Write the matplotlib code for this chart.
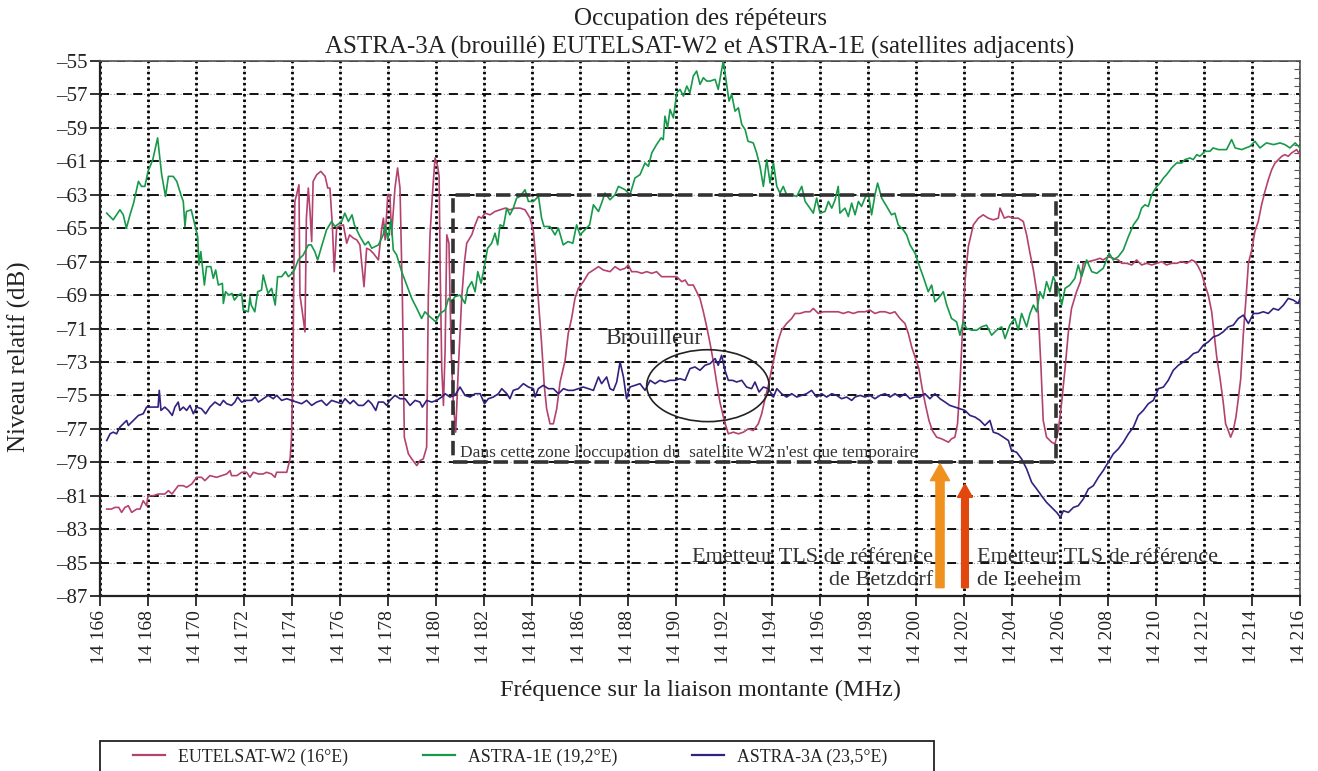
import numpy as np
import matplotlib
matplotlib.use("Agg")
import matplotlib.pyplot as plt
from matplotlib.patches import Rectangle, Ellipse
from matplotlib.ticker import MultipleLocator, FixedLocator
from matplotlib.lines import Line2D

plt.rcParams['font.family'] = ['Liberation Serif', 'DejaVu Serif']

# ---------------- data ----------------
series_names = ["EUTELSAT-W2 (16°E)", "ASTRA-1E (19,2°E)", "ASTRA-3A (23,5°E)"]
series_colors = ["#B4426F", "#17994A", "#34207F"]

eutelsat_f = [14166.28, 14166.48, 14166.62, 14166.78, 14166.90, 14167.04, 14167.18, 14167.32, 14167.53, 14167.67,
    14167.80, 14167.94, 14168.00, 14168.22, 14168.43, 14168.70, 14168.85, 14169.00, 14169.26, 14169.47,
    14169.61, 14169.82, 14170.03, 14170.23, 14170.37, 14170.58, 14170.86, 14171.07, 14171.28, 14171.42,
    14171.48, 14171.70, 14171.90, 14172.11, 14172.25, 14172.39, 14172.60, 14172.80, 14172.94, 14173.15,
    14173.29, 14173.36, 14173.57, 14173.78, 14173.85, 14173.92, 14173.98, 14174.04, 14174.08, 14174.12,
    14174.19, 14174.29, 14174.33, 14174.43, 14174.54, 14174.60, 14174.68, 14174.75, 14174.82, 14174.88,
    14175.03, 14175.20, 14175.38, 14175.49, 14175.58, 14175.68, 14175.76, 14175.86, 14175.93, 14176.14,
    14176.28, 14176.40, 14176.56, 14176.70, 14176.83, 14177.00, 14177.11, 14177.25, 14177.39, 14177.60,
    14177.74, 14177.81, 14177.88, 14177.99, 14178.08, 14178.15, 14178.29, 14178.40, 14178.50, 14178.60,
    14178.68, 14178.85, 14178.99, 14179.20, 14179.33, 14179.47, 14179.61, 14179.68, 14179.75, 14179.85,
    14179.96, 14180.07, 14180.13, 14180.17, 14180.24, 14180.31, 14180.38, 14180.45, 14180.54, 14180.63,
    14180.72, 14180.82, 14180.93, 14181.07, 14181.18, 14181.28, 14181.49, 14181.63, 14181.77, 14181.90,
    14182.04, 14182.25, 14182.46, 14182.67, 14182.88, 14183.08, 14183.29, 14183.50, 14183.71, 14183.92,
    14184.06, 14184.15, 14184.26, 14184.40, 14184.51, 14184.61, 14184.75, 14184.89, 14185.03, 14185.17,
    14185.38, 14185.51, 14185.65, 14185.79, 14185.93, 14186.14, 14186.35, 14186.56, 14186.77, 14186.97,
    14187.25, 14187.46, 14187.67, 14187.88, 14188.01, 14188.15, 14188.36, 14188.57, 14188.78, 14188.99,
    14189.19, 14189.40, 14189.61, 14189.82, 14190.03, 14190.24, 14190.38, 14190.51, 14190.72, 14190.86,
    14191.00, 14191.14, 14191.28, 14191.42, 14191.56, 14191.69, 14191.83, 14192.01, 14192.18, 14192.39,
    14192.60, 14192.81, 14193.01, 14193.22, 14193.43, 14193.57, 14193.71, 14193.85, 14193.99, 14194.13,
    14194.26, 14194.40, 14194.61, 14194.82, 14194.96, 14195.17, 14195.38, 14195.58, 14195.72, 14195.93,
    14196.14, 14196.35, 14196.56, 14196.76, 14196.97, 14197.18, 14197.39, 14197.60, 14197.87, 14198.08,
    14198.29, 14198.50, 14198.71, 14198.92, 14199.12, 14199.33, 14199.54, 14199.68, 14199.82, 14199.96,
    14200.12, 14200.26, 14200.40, 14200.54, 14200.68, 14200.86, 14201.07, 14201.21, 14201.35, 14201.48,
    14201.62, 14201.73, 14201.83, 14201.93, 14202.04, 14202.18, 14202.39, 14202.60, 14202.80, 14203.01,
    14203.22, 14203.43, 14203.50, 14203.68, 14203.85, 14204.05, 14204.26, 14204.47, 14204.61, 14204.75,
    14204.89, 14205.03, 14205.10, 14205.21, 14205.30, 14205.44, 14205.65, 14205.79, 14205.93, 14206.07,
    14206.21, 14206.35, 14206.48, 14206.69, 14206.85, 14206.97, 14207.18, 14207.46, 14207.67, 14207.80,
    14208.01, 14208.22, 14208.43, 14208.57, 14208.78, 14208.99, 14209.19, 14209.40, 14209.61, 14209.82,
    14210.03, 14210.24, 14210.44, 14210.65, 14210.86, 14211.07, 14211.28, 14211.49, 14211.63, 14211.76,
    14211.90, 14212.04, 14212.18, 14212.32, 14212.42, 14212.53, 14212.67, 14212.80, 14212.90, 14213.01,
    14213.11, 14213.22, 14213.33, 14213.43, 14213.53, 14213.64, 14213.75, 14213.85, 14213.99, 14214.12,
    14214.26, 14214.40, 14214.54, 14214.68, 14214.82, 14214.96, 14215.10, 14215.24, 14215.37, 14215.51,
    14215.65, 14215.86, 14216.00]
eutelsat_db = [-81.8, -81.8, -81.7, -81.7, -82.0, -81.7, -81.6, -82.0, -81.8, -81.8,
    -81.3, -81.6, -81.0, -81.0, -80.9, -80.9, -80.7, -80.9, -80.4, -80.4,
    -80.5, -80.3, -79.9, -79.9, -80.1, -79.8, -79.9, -79.8, -79.7, -79.5,
    -79.8, -79.8, -79.6, -79.6, -79.9, -79.6, -79.7, -79.7, -79.6, -79.7,
    -79.9, -79.6, -79.6, -79.6, -79.2, -78.8, -77.5, -73.4, -67.1, -63.4,
    -63.0, -62.4, -69.0, -70.0, -71.2, -64.4, -62.6, -64.0, -65.8, -62.2,
    -61.8, -61.6, -61.9, -62.6, -62.6, -64.8, -67.6, -65.0, -64.9, -64.8,
    -65.9, -65.4, -65.6, -65.7, -66.0, -68.5, -66.2, -66.3, -66.5, -66.9,
    -65.0, -64.4, -65.7, -63.0, -63.0, -65.4, -62.6, -61.4, -62.6, -69.2,
    -77.5, -78.5, -78.8, -79.2, -78.9, -78.8, -78.1, -69.2, -65.4, -63.0,
    -60.8, -61.3, -61.9, -67.1, -73.4, -75.6, -72.3, -65.4, -65.9, -72.3,
    -75.4, -77.2, -73.4, -69.2, -67.1, -65.9, -65.4, -64.8, -64.3, -64.4,
    -64.1, -64.2, -64.0, -63.9, -63.8, -63.9, -63.8, -63.8, -63.9, -64.4,
    -65.2, -66.7, -69.2, -71.9, -74.4, -75.8, -76.7, -76.7, -75.8, -74.2,
    -72.9, -71.3, -70.4, -69.2, -68.6, -68.2, -67.7, -67.5, -67.3, -67.5,
    -67.6, -67.3, -67.5, -67.4, -67.2, -67.6, -67.6, -67.7, -67.6, -67.7,
    -67.6, -67.9, -67.9, -67.9, -67.9, -68.2, -68.1, -68.4, -68.4, -68.8,
    -69.2, -70.0, -70.9, -71.9, -73.0, -74.2, -75.4, -76.5, -77.3, -77.2,
    -77.3, -77.2, -77.0, -77.1, -76.7, -76.1, -75.2, -74.4, -73.4, -72.5,
    -71.7, -71.1, -70.7, -70.4, -70.1, -70.1, -70.0, -70.0, -69.8, -70.1,
    -70.0, -70.0, -70.0, -70.0, -70.1, -70.0, -70.1, -70.0, -70.0, -69.9,
    -70.1, -70.0, -70.0, -70.1, -70.0, -70.4, -70.7, -71.3, -72.1, -72.7,
    -73.4, -74.6, -75.6, -76.5, -77.1, -77.5, -77.6, -77.7, -77.8, -77.6,
    -77.5, -76.7, -74.4, -71.3, -68.2, -66.1, -64.8, -64.4, -64.2, -64.4,
    -64.5, -64.4, -63.8, -64.4, -64.3, -64.4, -64.4, -64.6, -65.4, -66.5,
    -67.5, -68.8, -70.2, -73.4, -76.5, -77.5, -77.8, -77.9, -77.1, -75.4,
    -73.4, -71.2, -69.8, -68.8, -68.2, -67.1, -67.0, -66.9, -66.8, -66.9,
    -66.7, -66.8, -66.9, -67.1, -67.1, -67.2, -66.9, -67.2, -67.1, -67.2,
    -67.1, -67.0, -67.2, -67.1, -67.1, -67.0, -67.1, -66.9, -67.0, -67.3,
    -67.7, -68.4, -69.0, -70.0, -71.3, -72.7, -74.0, -75.4, -76.7, -77.1,
    -77.5, -77.1, -76.3, -75.2, -74.0, -71.3, -69.2, -67.1, -66.3, -65.2,
    -64.6, -63.6, -62.8, -62.1, -61.5, -61.1, -60.9, -60.7, -60.6, -60.7,
    -60.5, -60.3, -60.6]

astra1e_f = [14166.28, 14166.55, 14166.83, 14166.97, 14167.10, 14167.25, 14167.40, 14167.60, 14167.73, 14167.87,
    14168.00, 14168.20, 14168.40, 14168.57, 14168.73, 14168.85, 14169.05, 14169.20, 14169.37, 14169.47,
    14169.54, 14169.60, 14169.80, 14169.95, 14170.07, 14170.12, 14170.20, 14170.35, 14170.44, 14170.62,
    14170.72, 14170.82, 14170.93, 14171.10, 14171.14, 14171.23, 14171.37, 14171.50, 14171.60, 14171.76,
    14171.90, 14171.97, 14172.18, 14172.25, 14172.30, 14172.45, 14172.57, 14172.73, 14172.80, 14173.00,
    14173.15, 14173.30, 14173.40, 14173.57, 14173.73, 14173.85, 14174.00, 14174.10, 14174.26, 14174.47,
    14174.68, 14174.80, 14174.95, 14175.07, 14175.23, 14175.44, 14175.65, 14175.79, 14176.07, 14176.20,
    14176.35, 14176.50, 14176.60, 14176.83, 14177.04, 14177.18, 14177.32, 14177.60, 14177.80, 14177.88,
    14177.99, 14178.13, 14178.22, 14178.36, 14178.57, 14178.78, 14178.99, 14179.20, 14179.40, 14179.54,
    14179.75, 14179.99, 14180.17, 14180.38, 14180.52, 14180.65, 14180.79, 14181.00, 14181.21, 14181.32,
    14181.49, 14181.63, 14181.74, 14181.88, 14182.04, 14182.15, 14182.32, 14182.46, 14182.57, 14182.67,
    14182.81, 14182.95, 14183.08, 14183.22, 14183.36, 14183.50, 14183.71, 14183.85, 14184.06, 14184.27,
    14184.40, 14184.50, 14184.75, 14184.96, 14185.10, 14185.30, 14185.50, 14185.70, 14185.86, 14186.00,
    14186.20, 14186.40, 14186.56, 14186.77, 14186.90, 14187.04, 14187.25, 14187.46, 14187.60, 14187.88,
    14188.08, 14188.29, 14188.50, 14188.71, 14188.85, 14188.99, 14189.19, 14189.38, 14189.47, 14189.54,
    14189.65, 14189.75, 14189.89, 14190.03, 14190.17, 14190.31, 14190.45, 14190.58, 14190.72, 14190.86,
    14191.00, 14191.14, 14191.28, 14191.42, 14191.63, 14191.76, 14191.88, 14191.97, 14192.11, 14192.21,
    14192.32, 14192.46, 14192.60, 14192.74, 14192.88, 14193.00, 14193.22, 14193.36, 14193.50, 14193.64,
    14193.78, 14193.92, 14194.06, 14194.20, 14194.33, 14194.47, 14194.61, 14194.82, 14195.03, 14195.24,
    14195.38, 14195.58, 14195.72, 14195.86, 14196.00, 14196.21, 14196.35, 14196.49, 14196.63, 14196.76,
    14196.83, 14197.04, 14197.18, 14197.32, 14197.46, 14197.60, 14197.73, 14197.87, 14198.01, 14198.15,
    14198.29, 14198.40, 14198.57, 14198.78, 14198.98, 14199.12, 14199.26, 14199.47, 14199.61, 14199.75,
    14199.96, 14200.10, 14200.30, 14200.51, 14200.65, 14200.79, 14200.93, 14201.14, 14201.28, 14201.48,
    14201.69, 14201.83, 14201.97, 14202.11, 14202.32, 14202.53, 14202.73, 14202.94, 14203.15, 14203.36,
    14203.57, 14203.71, 14203.91, 14204.12, 14204.26, 14204.40, 14204.61, 14204.75, 14204.89, 14205.03,
    14205.16, 14205.30, 14205.44, 14205.58, 14205.72, 14205.93, 14206.07, 14206.21, 14206.41, 14206.62,
    14206.76, 14206.90, 14207.11, 14207.32, 14207.53, 14207.80, 14208.05, 14208.22, 14208.43, 14208.64,
    14208.85, 14209.06, 14209.26, 14209.40, 14209.54, 14209.68, 14209.82, 14210.03, 14210.17, 14210.31,
    14210.44, 14210.65, 14210.86, 14211.07, 14211.20, 14211.42, 14211.55, 14211.70, 14211.83, 14212.04,
    14212.25, 14212.38, 14212.60, 14212.94, 14213.15, 14213.30, 14213.57, 14213.92, 14214.12, 14214.33,
    14214.60, 14214.90, 14215.17, 14215.37, 14215.58, 14215.80, 14216.00]
astra1e_db = [-64.1, -64.5, -63.9, -64.2, -65.0, -64.2, -63.5, -62.2, -62.5, -62.5,
    -61.6, -60.9, -59.6, -61.8, -63.1, -61.9, -61.9, -62.2, -63.0, -63.4,
    -64.9, -64.0, -63.9, -64.8, -65.5, -67.2, -66.4, -68.4, -67.3, -67.3,
    -68.0, -67.5, -68.4, -68.3, -69.5, -68.8, -69.0, -68.9, -69.3, -69.0,
    -68.9, -69.9, -70.0, -69.1, -69.6, -70.0, -68.8, -68.7, -67.8, -68.9,
    -68.6, -69.6, -67.9, -67.9, -67.6, -67.9, -67.7, -67.5, -66.9, -66.6,
    -66.0, -66.0, -66.4, -66.9, -66.1, -65.1, -64.6, -64.9, -64.6, -64.1,
    -64.6, -64.2, -64.8, -65.5, -66.0, -65.8, -66.2, -66.0, -65.4, -64.8,
    -65.7, -64.5, -66.3, -66.6, -67.6, -68.4, -69.2, -69.8, -70.4, -70.0,
    -70.3, -70.6, -70.1, -69.9, -69.2, -69.4, -69.1, -69.0, -69.5, -68.6,
    -68.2, -68.8, -67.6, -68.3, -67.1, -66.2, -65.9, -65.3, -66.0, -64.8,
    -64.9, -63.8, -64.2, -63.8, -63.2, -63.1, -62.7, -63.4, -63.4, -63.1,
    -64.4, -64.9, -64.9, -65.4, -65.0, -66.0, -65.8, -65.9, -64.8, -65.4,
    -65.1, -64.8, -63.6, -64.0, -63.5, -62.9, -63.3, -63.0, -62.5, -62.7,
    -63.0, -62.0, -61.8, -61.1, -61.3, -60.5, -60.0, -59.6, -59.7, -58.3,
    -59.0, -57.9, -58.4, -56.9, -56.7, -57.1, -56.5, -56.9, -55.9, -55.6,
    -56.4, -56.0, -56.2, -56.2, -56.1, -56.7, -55.7, -55.0, -56.4, -57.4,
    -57.0, -58.0, -57.8, -58.8, -59.1, -59.8, -59.9, -60.5, -61.3, -62.5,
    -60.9, -62.3, -61.1, -62.5, -62.9, -62.5, -63.0, -63.0, -63.1, -62.5,
    -63.4, -63.8, -64.1, -63.2, -64.1, -64.0, -63.4, -63.8, -63.3, -62.5,
    -64.1, -63.8, -64.3, -63.5, -64.2, -63.4, -63.7, -63.2, -62.9, -64.2,
    -63.0, -62.3, -63.2, -63.7, -64.2, -64.1, -64.8, -65.1, -65.4, -66.0,
    -66.5, -67.1, -67.9, -68.8, -68.4, -69.4, -69.2, -68.8, -69.6, -70.4,
    -70.6, -71.4, -70.6, -71.0, -71.1, -71.1, -70.9, -70.8, -71.4, -71.1,
    -70.9, -71.6, -70.8, -70.4, -71.1, -70.1, -70.9, -70.1, -69.6, -70.0,
    -68.8, -69.2, -68.2, -68.8, -67.9, -68.6, -69.6, -68.6, -68.4, -68.0,
    -67.2, -67.9, -66.9, -67.6, -67.7, -67.4, -66.5, -66.9, -66.7, -66.3,
    -65.5, -64.8, -64.4, -63.8, -63.6, -63.7, -63.0, -62.5, -62.3, -62.0,
    -61.8, -61.4, -61.1, -61.1, -60.9, -60.8, -60.9, -60.6, -60.7, -60.4,
    -60.4, -60.2, -60.3, -60.3, -59.7, -60.2, -60.3, -60.1, -59.8, -60.2,
    -59.9, -60.0, -59.9, -60.0, -60.2, -59.9, -60.2]

astra3a_f = [14166.28, 14166.42, 14166.55, 14166.69, 14166.83, 14166.97, 14167.11, 14167.18, 14167.39, 14167.60,
    14167.80, 14167.94, 14168.08, 14168.29, 14168.42, 14168.47, 14168.54, 14168.70, 14168.85, 14169.01,
    14169.12, 14169.26, 14169.33, 14169.47, 14169.61, 14169.75, 14169.89, 14170.03, 14170.23, 14170.40,
    14170.58, 14170.79, 14171.00, 14171.14, 14171.28, 14171.48, 14171.62, 14171.73, 14171.90, 14172.11,
    14172.32, 14172.46, 14172.60, 14172.80, 14173.01, 14173.22, 14173.36, 14173.57, 14173.78, 14173.98,
    14174.19, 14174.40, 14174.61, 14174.82, 14175.03, 14175.23, 14175.44, 14175.65, 14175.86, 14176.07,
    14176.21, 14176.42, 14176.56, 14176.77, 14176.97, 14177.18, 14177.32, 14177.49, 14177.60, 14177.81,
    14177.95, 14178.08, 14178.29, 14178.50, 14178.71, 14178.92, 14179.13, 14179.33, 14179.43, 14179.61,
    14179.82, 14180.03, 14180.24, 14180.38, 14180.58, 14180.79, 14181.00, 14181.21, 14181.42, 14181.63,
    14181.84, 14182.02, 14182.18, 14182.39, 14182.60, 14182.74, 14182.95, 14183.08, 14183.22, 14183.43,
    14183.64, 14183.85, 14184.06, 14184.13, 14184.26, 14184.47, 14184.68, 14184.89, 14185.10, 14185.31,
    14185.51, 14185.72, 14185.93, 14186.14, 14186.35, 14186.56, 14186.77, 14186.90, 14187.11, 14187.25,
    14187.39, 14187.53, 14187.67, 14187.81, 14187.94, 14188.08, 14188.29, 14188.50, 14188.71, 14188.92,
    14189.13, 14189.33, 14189.54, 14189.75, 14189.96, 14190.17, 14190.38, 14190.58, 14190.79, 14191.00,
    14191.21, 14191.42, 14191.63, 14191.76, 14191.90, 14192.04, 14192.18, 14192.35, 14192.53, 14192.74,
    14192.94, 14193.15, 14193.29, 14193.46, 14193.64, 14193.85, 14194.06, 14194.20, 14194.40, 14194.61,
    14194.82, 14195.03, 14195.24, 14195.44, 14195.65, 14195.86, 14196.07, 14196.28, 14196.49, 14196.69,
    14196.90, 14197.11, 14197.32, 14197.46, 14197.67, 14197.87, 14198.08, 14198.29, 14198.50, 14198.71,
    14198.92, 14199.12, 14199.33, 14199.54, 14199.75, 14199.96, 14200.16, 14200.37, 14200.58, 14200.79,
    14201.00, 14201.21, 14201.41, 14201.62, 14201.83, 14202.04, 14202.25, 14202.46, 14202.67, 14202.87,
    14203.08, 14203.22, 14203.43, 14203.64, 14203.85, 14203.98, 14204.19, 14204.40, 14204.61, 14204.82,
    14205.03, 14205.23, 14205.44, 14205.65, 14205.86, 14206.02, 14206.14, 14206.35, 14206.56, 14206.76,
    14206.97, 14207.18, 14207.39, 14207.60, 14207.80, 14208.01, 14208.22, 14208.43, 14208.64, 14208.85,
    14209.06, 14209.26, 14209.47, 14209.68, 14209.89, 14210.10, 14210.31, 14210.51, 14210.72, 14210.93,
    14211.14, 14211.35, 14211.56, 14211.76, 14211.97, 14212.18, 14212.39, 14212.60, 14212.80, 14213.01,
    14213.22, 14213.43, 14213.64, 14213.85, 14214.06, 14214.26, 14214.47, 14214.68, 14214.89, 14215.10,
    14215.31, 14215.51, 14215.72, 14215.93, 14216.00]
astra3a_db = [-77.7, -77.3, -77.2, -77.3, -76.9, -76.7, -76.5, -76.8, -76.5, -76.2,
    -76.1, -75.7, -75.7, -75.7, -75.7, -74.7, -75.9, -75.7, -75.9, -76.2,
    -75.7, -75.4, -75.9, -75.7, -75.9, -75.6, -76.1, -75.7, -75.8, -76.1,
    -75.7, -75.4, -75.6, -75.3, -75.5, -75.6, -75.4, -75.1, -75.4, -75.3,
    -75.3, -75.1, -75.4, -75.2, -75.0, -75.2, -75.0, -75.3, -75.2, -75.3,
    -75.4, -75.5, -75.3, -75.6, -75.4, -75.3, -75.6, -75.3, -75.4, -75.5,
    -75.2, -75.5, -75.3, -75.6, -75.6, -75.3, -75.5, -75.9, -75.4, -75.4,
    -75.6, -75.3, -75.0, -75.2, -75.2, -75.6, -75.3, -75.4, -75.7, -75.3,
    -75.4, -75.3, -75.1, -74.9, -75.1, -75.0, -74.5, -75.0, -75.1, -74.9,
    -74.9, -75.5, -75.2, -75.1, -74.9, -74.6, -74.9, -75.2, -74.7, -74.6,
    -74.3, -74.5, -74.6, -75.1, -74.6, -74.4, -74.6, -74.6, -74.9, -74.6,
    -74.7, -74.7, -74.6, -74.5, -74.6, -74.7, -73.9, -74.3, -73.9, -74.6,
    -74.7, -74.2, -73.0, -73.9, -75.2, -74.5, -74.4, -74.3, -74.7, -74.1,
    -74.3, -74.1, -74.2, -74.1, -74.1, -74.0, -74.1, -73.4, -73.3, -73.5,
    -73.2, -73.1, -72.8, -73.2, -72.6, -73.5, -74.1, -74.1, -74.2, -74.1,
    -74.5, -74.6, -74.2, -74.8, -74.5, -74.6, -75.1, -74.6, -74.9, -75.1,
    -74.9, -75.1, -75.0, -74.9, -74.7, -75.1, -74.9, -75.1, -74.9, -75.0,
    -75.2, -75.1, -75.3, -75.1, -75.0, -75.1, -75.0, -75.2, -75.0, -74.9,
    -75.1, -74.9, -75.1, -74.9, -75.2, -75.1, -75.1, -74.9, -75.2, -74.9,
    -75.2, -75.4, -75.6, -75.7, -75.8, -75.9, -76.2, -76.3, -76.5, -76.8,
    -76.5, -77.2, -77.3, -77.5, -77.7, -78.3, -78.4, -78.8, -79.4, -80.2,
    -80.6, -81.0, -81.4, -81.7, -82.0, -82.3, -81.9, -82.0, -81.7, -81.6,
    -81.2, -80.6, -80.4, -79.9, -79.5, -79.0, -78.5, -78.2, -77.8, -77.3,
    -76.9, -76.2, -75.9, -75.5, -75.3, -74.6, -74.5, -74.1, -73.5, -73.2,
    -73.0, -72.8, -72.5, -72.4, -72.0, -71.8, -71.5, -71.4, -71.2, -70.9,
    -70.8, -70.4, -70.2, -70.7, -70.1, -70.1, -70.0, -70.1, -69.8, -69.9,
    -69.6, -69.2, -69.3, -69.5, -69.2]

x_ticks = list(range(14166, 14217, 2))
y_ticks = list(range(-87, -54, 2))

# ---------------- figure ----------------
W, H = 1318, 771
fig = plt.figure(figsize=(W / 100, H / 100), dpi=100)
ax = fig.add_axes([100 / W, 1 - 596 / H, 1200 / W, 535 / H])
ax.set_xlim(14166, 14216)
ax.set_ylim(-87, -55)

# grid
for yv in y_ticks:
    ax.axhline(yv, color="#9a9a9a", lw=0.8, ls=(0, (1, 2)), zorder=0.5)
    ax.axhline(yv, color="black", lw=1.3, ls=(0, (5, 4.2)), zorder=0.6)
for xv in x_ticks:
    ax.axvline(xv, color="#b0b0b0", lw=0.8, ls=(1, (1, 2)), zorder=0.5)
    ax.axvline(xv, color="black", lw=2.0, ls=(0, (0.9, 1.1)), zorder=0.6)

series = [(eutelsat_f, eutelsat_db), (astra1e_f, astra1e_db), (astra3a_f, astra3a_db)]
for (f, d), name, col in zip(series, series_names, series_colors):
    ax.plot(f, d, color=col, lw=1.2, label=name, zorder=3)

# zone box
ax.add_patch(Rectangle((14180.7, -79.0), 14205.82 - 14180.7, 16.0, fill=False,
                       edgecolor="#333333", lw=2.6, ls=(0, (4, 1.6)), zorder=4))
ax.text(14181.0, -78.66, "Dans cette zone l'occupation du  satellite W2 n'est que temporaire",
        fontsize=12.5, color="#333333", ha="left", va="baseline", zorder=5)

# interferer
ax.add_patch(Ellipse((14191.33, -74.42), 5.1, 4.3, fill=False, edgecolor="#222222", lw=1.2, zorder=4))
ax.text(14189.08, -71.9, "Brouilleur", fontsize=17, color="#333333", ha="center", va="baseline", zorder=5)

# arrows
ax.arrow(14201.0, -86.5, 0, 7.4, width=0.34, head_width=0.8, head_length=1.0,
         length_includes_head=True, color="#F0901E", zorder=5)
ax.arrow(14202.04, -86.5, 0, 6.2, width=0.28, head_width=0.62, head_length=0.8,
         length_includes_head=True, color="#E2480E", zorder=5)

ax.text(14200.7, -84.94, "Emetteur TLS de référence", fontsize=16, color="#333333",
        ha="right", va="baseline", zorder=5)
ax.text(14200.7, -86.37, "de Betzdorf", fontsize=16, color="#333333",
        ha="right", va="baseline", zorder=5)
ax.text(14202.53, -84.94, "Emetteur TLS de référence", fontsize=16, color="#333333",
        ha="left", va="baseline", zorder=5)
ax.text(14202.53, -86.37, "de Leeheim", fontsize=16, color="#333333",
        ha="left", va="baseline", zorder=5)

# axes styling
ax.xaxis.set_major_locator(FixedLocator(x_ticks))
ax.yaxis.set_major_locator(FixedLocator(y_ticks))
ax.set_xticklabels([f"{v // 1000} {v % 1000:03d}" for v in x_ticks], rotation=90, fontsize=14)
ax.set_yticklabels([f"–{abs(v)}" for v in y_ticks], fontsize=15)
ax.tick_params(axis="both", which="major", direction="out", length=7, width=1.3, color="#222222",
               labelcolor="#222222")
ax.tick_params(axis="x", pad=3)
ax.tick_params(axis="y", pad=2)
ax.yaxis.set_minor_locator(MultipleLocator(0.5))
ax.tick_params(axis="y", which="minor", left=False, right=True, direction="in", length=4,
               width=0.8, color="#555555")
for side in ["left", "bottom"]:
    ax.spines[side].set_linewidth(1.6)
    ax.spines[side].set_color("#222222")
for side in ["top", "right"]:
    ax.spines[side].set_linewidth(1.2)
    ax.spines[side].set_color("#555555")

# titles and labels
fig.text(700 / W, 1 - 25 / H, "Occupation des répéteurs", fontsize=18, ha="center", va="baseline",
         color="#222222")
fig.text(700 / W, 1 - 53.3 / H, "ASTRA-3A (brouillé) EUTELSAT-W2 et ASTRA-1E (satellites adjacents)",
         fontsize=18, ha="center", va="baseline", color="#222222")
fig.text(19 / W, 1 - 357 / H, "Niveau relatif (dB)", fontsize=18, rotation=90, ha="center", va="center",
         color="#222222")
fig.text(700 / W, 1 - 690 / H, "Fréquence sur la liaison montante (MHz)", fontsize=17.5, ha="center",
         va="center", color="#222222")

# legend
handles = [Line2D([0], [0], color=c, lw=1.6) for c in series_colors]
leg = fig.legend(handles, series_names, loc="center left", bbox_to_anchor=(133 / W, 1 - 757 / H),
                 ncol=3, frameon=False, fontsize=12.8, handlelength=1.8, handletextpad=0.73,
                 columnspacing=4.2, borderaxespad=0, borderpad=0)
for t in leg.get_texts():
    t.set_color("#222222")
fig.patches.append(Rectangle((100 / W, -0.02), 834 / W, (771 - 741) / H + 0.02, fill=False,
                             edgecolor="#222222", lw=1.3, transform=fig.transFigure, clip_on=False))

fig.savefig("out.png", dpi=100)
